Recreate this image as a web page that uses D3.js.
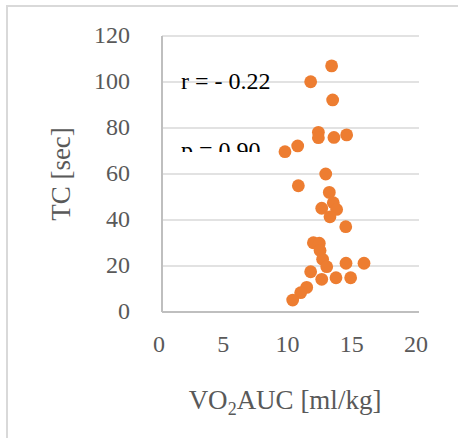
<!DOCTYPE html>
<html>
<head>
<meta charset="utf-8">
<script src="https://cdn.jsdelivr.net/npm/d3@7"></script>
<style>
  body { margin: 0; background: #fff; }
  text { font-family: "Liberation Serif", "Times New Roman", serif; }
</style>
</head>
<body>
<div id="chart"></div>
<script>
// VO2AUC [ml/kg] vs TC [sec]
const vo2 = [13.2, 11.57, 13.28, 12.17, 12.17, 13.38, 14.37, 10.56, 9.57,
  12.74, 10.61, 13.02, 12.43, 13.33, 13.59, 13.07, 14.3,
  11.78, 12.24, 12.3, 12.5, 12.82, 11.57, 12.43, 13.54, 14.32, 15.72, 14.68, 11.26, 10.79, 10.17]
const tc = [107.0, 100.1, 92.2, 78.1, 75.8, 75.9, 77.0, 72.2, 69.7,
  60.0, 54.9, 52.0, 45.1, 47.5, 44.6, 41.4, 37.1,
  30.1, 29.9, 26.7, 22.9, 19.7, 17.5, 14.2, 14.9, 21.2, 21.2, 14.9, 10.7, 8.4, 5.2]
const xTicks = [0, 5, 10, 15, 20]
const yTicks = [0, 20, 40, 60, 80, 100, 120]
const notes = ["r = - 0.22", "p = 0.90"]

const data = vo2.map((v, i) => ({ x: v, y: tc[i] }))

const W = 458, H = 438
const margin = { top: 36, left: 162, right: 39, bottom: 126 }
const width = W - margin.left - margin.right
const height = H - margin.top - margin.bottom

const svg = d3.select("#chart").append("svg")
  .attr("width", W).attr("height", H)

// chart area border
svg.append("rect")
  .attr("x", 7).attr("y", 6)
  .attr("width", 470).attr("height", 450)
  .attr("fill", "none").attr("stroke", "#d9d9d9").attr("stroke-width", 2)

const g = svg.append("g").attr("transform", `translate(${margin.left},${margin.top})`)

const x = d3.scaleLinear().domain([0, 20]).range([0, width])
const y = d3.scaleLinear().domain([0, 120]).range([height, 0])

// gridlines
g.append("g")
  .selectAll("line")
  .data(yTicks.filter((d) => d > 0))
  .join("line")
  .attr("x1", 0).attr("x2", width)
  .attr("y1", (d) => y(d)).attr("y2", (d) => y(d))
  .attr("stroke", "#d9d9d9").attr("stroke-width", 1.5)

// axis lines
g.append("line").attr("x1", 0).attr("x2", 0).attr("y1", 0).attr("y2", height)
  .attr("stroke", "#bfbfbf").attr("stroke-width", 2)
g.append("line").attr("x1", 0).attr("x2", width).attr("y1", height).attr("y2", height)
  .attr("stroke", "#bfbfbf").attr("stroke-width", 2)

// y tick labels
g.append("g")
  .selectAll("text")
  .data(yTicks)
  .join("text")
  .attr("x", -32)
  .attr("y", (d) => y(d) + 6.5)
  .attr("text-anchor", "end")
  .attr("font-size", 24)
  .attr("fill", "#595959")
  .text((d) => d)

// x tick labels
g.append("g")
  .selectAll("text")
  .data(xTicks)
  .join("text")
  .attr("x", (d) => x(d) - 3)
  .attr("y", height + 40)
  .attr("text-anchor", "middle")
  .attr("font-size", 24)
  .attr("fill", "#595959")
  .text((d) => d)

// axis titles
svg.append("text")
  .attr("transform", `translate(70,${margin.top + height / 2}) rotate(-90)`)
  .attr("text-anchor", "middle")
  .attr("font-size", 27)
  .attr("fill", "#595959")
  .text("TC [sec]")

const xt = svg.append("text")
  .attr("x", 285).attr("y", 409)
  .attr("text-anchor", "middle")
  .attr("font-size", 27)
  .attr("fill", "#595959")
xt.append("tspan").text("VO")
xt.append("tspan").attr("font-size", 18).attr("dy", 6).text("2")
xt.append("tspan").attr("dy", -6).text("AUC [ml/kg]")

// annotation text box (clipped like the original)
svg.append("clipPath").attr("id", "noteclip")
  .append("rect").attr("x", 170).attr("y", 60).attr("width", 120).attr("height", 92)

const notesG = svg.append("g").attr("clip-path", "url(#noteclip)")
notesG.selectAll("text")
  .data(notes)
  .join("text")
  .attr("x", 181)
  .attr("y", (d, i) => 89 + i * 69)
  .attr("font-size", 24)
  .attr("fill", "#000")
  .text((d) => d)

// points
g.append("g")
  .selectAll("circle")
  .data(data)
  .join("circle")
  .attr("cx", (d) => x(d.x))
  .attr("cy", (d) => y(d.y))
  .attr("r", 6.4)
  .attr("fill", "#ed7d31")
</script>
</body>
</html>
